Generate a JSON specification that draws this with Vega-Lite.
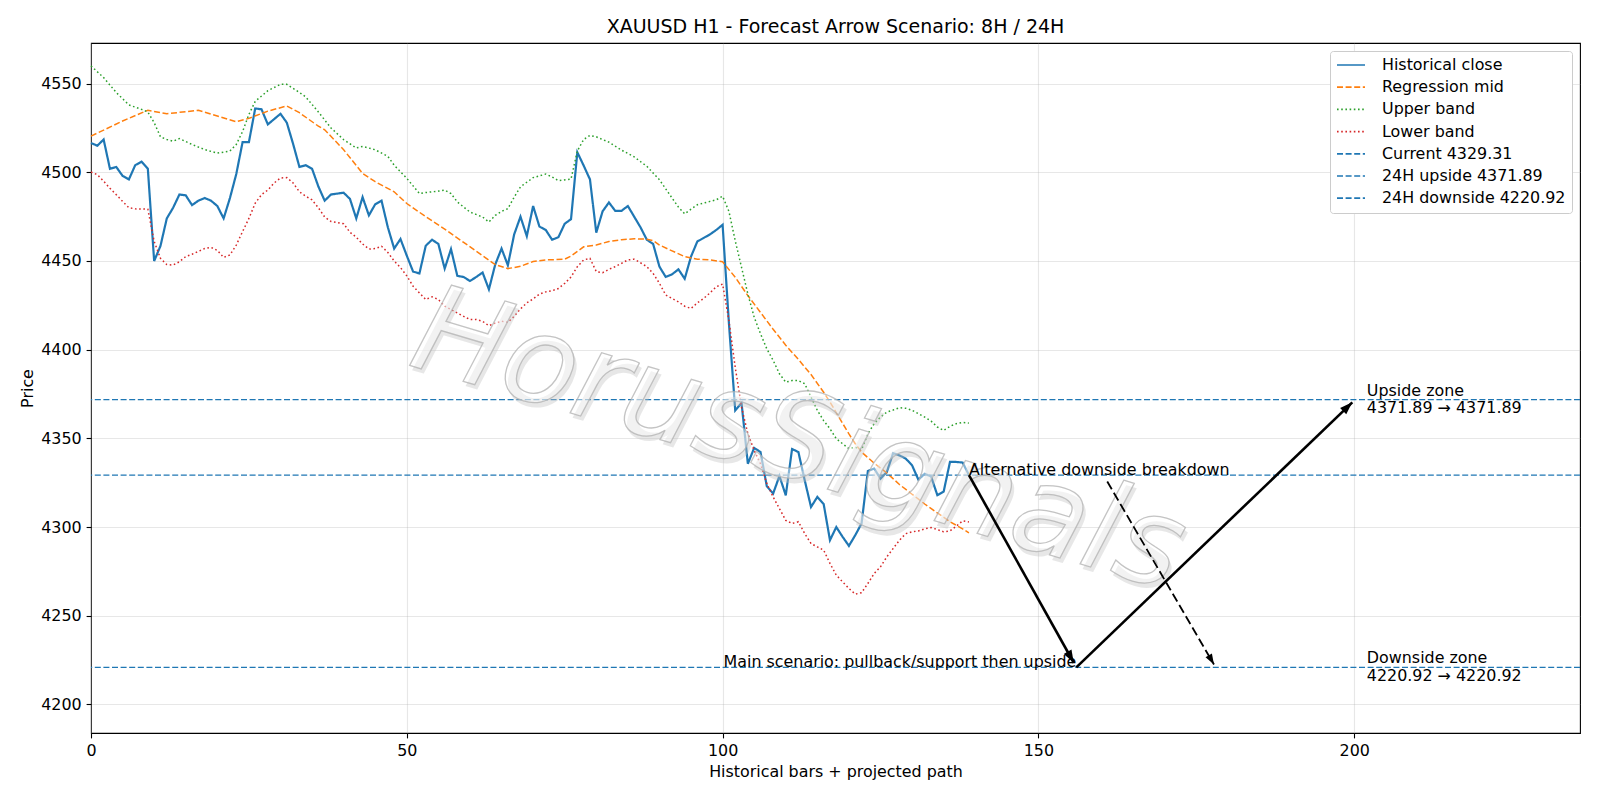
{
"$schema":"https://vega.github.io/schema/vega-lite/v6.json",
"width":1489,"height":690,
"autosize":{"type":"none"},
"padding":{"left":91,"top":43,"right":20,"bottom":67},
"background":"white",
"title":{"text":"XAUUSD H1 - Forecast Arrow Scenario: 8H / 24H","fontSize":19,"fontWeight":"normal","color":"black","font":"DejaVu Sans","offset":6.5,"frame":"group","anchor":"middle"},
"datasets":{
"series":[
{"s":"Historical close","i":0,"p":4516.5},{"s":"Historical close","i":1,"p":4515},{"s":"Historical close","i":2,"p":4518.5},{"s":"Historical close","i":3,"p":4502},{"s":"Historical close","i":4,"p":4503},{"s":"Historical close","i":5,"p":4498},{"s":"Historical close","i":6,"p":4496},{"s":"Historical close","i":7,"p":4504},{"s":"Historical close","i":8,"p":4506},{"s":"Historical close","i":9,"p":4502},
{"s":"Historical close","i":10,"p":4450},{"s":"Historical close","i":11,"p":4458.5},{"s":"Historical close","i":12,"p":4474},{"s":"Historical close","i":13,"p":4480},{"s":"Historical close","i":14,"p":4487.5},{"s":"Historical close","i":15,"p":4487},{"s":"Historical close","i":16,"p":4481.5},{"s":"Historical close","i":17,"p":4484},{"s":"Historical close","i":18,"p":4485.5},{"s":"Historical close","i":19,"p":4484},
{"s":"Historical close","i":20,"p":4481},{"s":"Historical close","i":21,"p":4474},{"s":"Historical close","i":22,"p":4485.5},{"s":"Historical close","i":23,"p":4499},{"s":"Historical close","i":24,"p":4517},{"s":"Historical close","i":25,"p":4517},{"s":"Historical close","i":26,"p":4536},{"s":"Historical close","i":27,"p":4535.5},{"s":"Historical close","i":28,"p":4527},{"s":"Historical close","i":29,"p":4530},
{"s":"Historical close","i":30,"p":4533},{"s":"Historical close","i":31,"p":4528},{"s":"Historical close","i":32,"p":4516},{"s":"Historical close","i":33,"p":4503},{"s":"Historical close","i":34,"p":4504},{"s":"Historical close","i":35,"p":4502},{"s":"Historical close","i":36,"p":4492},{"s":"Historical close","i":37,"p":4484},{"s":"Historical close","i":38,"p":4487.5},{"s":"Historical close","i":39,"p":4488},
{"s":"Historical close","i":40,"p":4488.5},{"s":"Historical close","i":41,"p":4485},{"s":"Historical close","i":42,"p":4474},{"s":"Historical close","i":43,"p":4486},{"s":"Historical close","i":44,"p":4475.7},{"s":"Historical close","i":45,"p":4482},{"s":"Historical close","i":46,"p":4484},{"s":"Historical close","i":47,"p":4469},{"s":"Historical close","i":48,"p":4457},{"s":"Historical close","i":49,"p":4462.4},
{"s":"Historical close","i":50,"p":4453},{"s":"Historical close","i":51,"p":4444},{"s":"Historical close","i":52,"p":4443},{"s":"Historical close","i":53,"p":4458.6},{"s":"Historical close","i":54,"p":4462},{"s":"Historical close","i":55,"p":4459.6},{"s":"Historical close","i":56,"p":4445.7},{"s":"Historical close","i":57,"p":4456.7},{"s":"Historical close","i":58,"p":4441.6},{"s":"Historical close","i":59,"p":4441},
{"s":"Historical close","i":60,"p":4438.7},{"s":"Historical close","i":61,"p":4441},{"s":"Historical close","i":62,"p":4443.5},{"s":"Historical close","i":63,"p":4434},{"s":"Historical close","i":64,"p":4448},{"s":"Historical close","i":65,"p":4457},{"s":"Historical close","i":66,"p":4447.6},{"s":"Historical close","i":67,"p":4465},{"s":"Historical close","i":68,"p":4475},{"s":"Historical close","i":69,"p":4464},
{"s":"Historical close","i":70,"p":4481},{"s":"Historical close","i":71,"p":4469.4},{"s":"Historical close","i":72,"p":4467.5},{"s":"Historical close","i":73,"p":4462},{"s":"Historical close","i":74,"p":4463.4},{"s":"Historical close","i":75,"p":4471},{"s":"Historical close","i":76,"p":4473.6},{"s":"Historical close","i":77,"p":4511.3},{"s":"Historical close","i":78,"p":4503.8},{"s":"Historical close","i":79,"p":4496},
{"s":"Historical close","i":80,"p":4466},{"s":"Historical close","i":81,"p":4478},{"s":"Historical close","i":82,"p":4483},{"s":"Historical close","i":83,"p":4478.3},{"s":"Historical close","i":84,"p":4478.3},{"s":"Historical close","i":85,"p":4481},{"s":"Historical close","i":86,"p":4475},{"s":"Historical close","i":87,"p":4469},{"s":"Historical close","i":88,"p":4462},{"s":"Historical close","i":89,"p":4459.6},
{"s":"Historical close","i":90,"p":4446.8},{"s":"Historical close","i":91,"p":4441},{"s":"Historical close","i":92,"p":4442.5},{"s":"Historical close","i":93,"p":4445.3},{"s":"Historical close","i":94,"p":4440},{"s":"Historical close","i":95,"p":4452.5},{"s":"Historical close","i":96,"p":4461},{"s":"Historical close","i":97,"p":4463},{"s":"Historical close","i":98,"p":4465},{"s":"Historical close","i":99,"p":4467.5},
{"s":"Historical close","i":100,"p":4470.4},{"s":"Historical close","i":101,"p":4415},{"s":"Historical close","i":102,"p":4365.7},{"s":"Historical close","i":103,"p":4370},{"s":"Historical close","i":104,"p":4335.7},{"s":"Historical close","i":105,"p":4344.6},{"s":"Historical close","i":106,"p":4342.3},{"s":"Historical close","i":107,"p":4323},{"s":"Historical close","i":108,"p":4318.9},{"s":"Historical close","i":109,"p":4328.8},
{"s":"Historical close","i":110,"p":4317.9},{"s":"Historical close","i":111,"p":4344},{"s":"Historical close","i":112,"p":4342.3},{"s":"Historical close","i":113,"p":4326.4},{"s":"Historical close","i":114,"p":4311.3},{"s":"Historical close","i":115,"p":4317},{"s":"Historical close","i":116,"p":4313},{"s":"Historical close","i":117,"p":4292.6},{"s":"Historical close","i":118,"p":4300},{"s":"Historical close","i":119,"p":4294.5},
{"s":"Historical close","i":120,"p":4289.4},{"s":"Historical close","i":121,"p":4295.4},{"s":"Historical close","i":122,"p":4302},{"s":"Historical close","i":123,"p":4331.6},{"s":"Historical close","i":124,"p":4333},{"s":"Historical close","i":125,"p":4327.3},{"s":"Historical close","i":126,"p":4331},{"s":"Historical close","i":127,"p":4341.7},{"s":"Historical close","i":128,"p":4340.4},{"s":"Historical close","i":129,"p":4338.6},
{"s":"Historical close","i":130,"p":4334.8},{"s":"Historical close","i":131,"p":4326.7},{"s":"Historical close","i":132,"p":4330},{"s":"Historical close","i":133,"p":4328.6},{"s":"Historical close","i":134,"p":4318},{"s":"Historical close","i":135,"p":4320},{"s":"Historical close","i":136,"p":4336.7},{"s":"Historical close","i":137,"p":4336.7},{"s":"Historical close","i":138,"p":4336.4},{"s":"Historical close","i":139,"p":4329.31},
{"s":"Regression mid","i":0,"p":4520.4},{"s":"Regression mid","i":5,"p":4528.9},{"s":"Regression mid","i":9,"p":4535},{"s":"Regression mid","i":12,"p":4533},{"s":"Regression mid","i":17,"p":4535},{"s":"Regression mid","i":20,"p":4531.7},{"s":"Regression mid","i":23,"p":4528.5},{"s":"Regression mid","i":25,"p":4530.4},{"s":"Regression mid","i":28,"p":4534.5},{"s":"Regression mid","i":31,"p":4537.4},{"s":"Regression mid","i":33,"p":4533.6},{"s":"Regression mid","i":36,"p":4526},{"s":"Regression mid","i":37,"p":4524},{"s":"Regression mid","i":40,"p":4512.7},{"s":"Regression mid","i":43,"p":4499.4},{"s":"Regression mid","i":45,"p":4494.7},{"s":"Regression mid","i":48,"p":4489},{"s":"Regression mid","i":50,"p":4482.4},{"s":"Regression mid","i":53,"p":4475},{"s":"Regression mid","i":56,"p":4468},{"s":"Regression mid","i":59,"p":4460.5},{"s":"Regression mid","i":62,"p":4453},{"s":"Regression mid","i":64,"p":4448},{"s":"Regression mid","i":66,"p":4445.7},{"s":"Regression mid","i":68,"p":4447},{"s":"Regression mid","i":70,"p":4449.7},{"s":"Regression mid","i":72,"p":4450.6},{"s":"Regression mid","i":75,"p":4451},{"s":"Regression mid","i":76,"p":4452.8},{"s":"Regression mid","i":78,"p":4458},{"s":"Regression mid","i":80,"p":4459},{"s":"Regression mid","i":82,"p":4461},{"s":"Regression mid","i":84,"p":4462},{"s":"Regression mid","i":86,"p":4462.5},{"s":"Regression mid","i":88,"p":4462.3},{"s":"Regression mid","i":89,"p":4461.5},{"s":"Regression mid","i":90,"p":4459},{"s":"Regression mid","i":92,"p":4455.7},{"s":"Regression mid","i":94,"p":4452.5},{"s":"Regression mid","i":96,"p":4451},{"s":"Regression mid","i":98,"p":4450.6},{"s":"Regression mid","i":100,"p":4449.6},{"s":"Regression mid","i":102,"p":4440.8},{"s":"Regression mid","i":104,"p":4430.5},{"s":"Regression mid","i":106,"p":4421},{"s":"Regression mid","i":108,"p":4411.5},{"s":"Regression mid","i":110,"p":4402.5},{"s":"Regression mid","i":112,"p":4394.5},{"s":"Regression mid","i":114,"p":4386},{"s":"Regression mid","i":116,"p":4376},{"s":"Regression mid","i":117,"p":4370.5},{"s":"Regression mid","i":118,"p":4364.5},{"s":"Regression mid","i":119,"p":4358.5},{"s":"Regression mid","i":120,"p":4352.5},{"s":"Regression mid","i":121,"p":4347},{"s":"Regression mid","i":122,"p":4342.3},{"s":"Regression mid","i":124,"p":4336},{"s":"Regression mid","i":126,"p":4330.5},{"s":"Regression mid","i":128,"p":4324},{"s":"Regression mid","i":130,"p":4318.5},{"s":"Regression mid","i":132,"p":4313},{"s":"Regression mid","i":134,"p":4308},{"s":"Regression mid","i":136,"p":4303},{"s":"Regression mid","i":138,"p":4299},{"s":"Regression mid","i":139,"p":4296.7},
{"s":"Upper band","i":0,"p":4560},{"s":"Upper band","i":2,"p":4553.4},{"s":"Upper band","i":4,"p":4545},{"s":"Upper band","i":6,"p":4538},{"s":"Upper band","i":8,"p":4535.5},{"s":"Upper band","i":9,"p":4534},{"s":"Upper band","i":10,"p":4528},{"s":"Upper band","i":11,"p":4520},{"s":"Upper band","i":12,"p":4518.5},{"s":"Upper band","i":13,"p":4517.5},{"s":"Upper band","i":14,"p":4519},{"s":"Upper band","i":16,"p":4515.7},{"s":"Upper band","i":18,"p":4512.8},{"s":"Upper band","i":20,"p":4510.8},{"s":"Upper band","i":22,"p":4512},{"s":"Upper band","i":23,"p":4515.7},{"s":"Upper band","i":24,"p":4523},{"s":"Upper band","i":25,"p":4532.6},{"s":"Upper band","i":26,"p":4540},{"s":"Upper band","i":28,"p":4546},{"s":"Upper band","i":30,"p":4549.6},{"s":"Upper band","i":31,"p":4549.6},{"s":"Upper band","i":33,"p":4545},{"s":"Upper band","i":34,"p":4542.5},{"s":"Upper band","i":36,"p":4534},{"s":"Upper band","i":38,"p":4525},{"s":"Upper band","i":40,"p":4518.4},{"s":"Upper band","i":42,"p":4513.7},{"s":"Upper band","i":43,"p":4514.6},{"s":"Upper band","i":45,"p":4512.7},{"s":"Upper band","i":47,"p":4509},{"s":"Upper band","i":48,"p":4504},{"s":"Upper band","i":50,"p":4496.6},{"s":"Upper band","i":52,"p":4488},{"s":"Upper band","i":53,"p":4488.6},{"s":"Upper band","i":55,"p":4489.4},{"s":"Upper band","i":56,"p":4490},{"s":"Upper band","i":57,"p":4488},{"s":"Upper band","i":58,"p":4483.3},{"s":"Upper band","i":60,"p":4477.6},{"s":"Upper band","i":62,"p":4474.8},{"s":"Upper band","i":63,"p":4472},{"s":"Upper band","i":64,"p":4475.7},{"s":"Upper band","i":65,"p":4478},{"s":"Upper band","i":66,"p":4479.5},{"s":"Upper band","i":67,"p":4486},{"s":"Upper band","i":68,"p":4491.8},{"s":"Upper band","i":70,"p":4497},{"s":"Upper band","i":71,"p":4498},{"s":"Upper band","i":72,"p":4499},{"s":"Upper band","i":73,"p":4497.4},{"s":"Upper band","i":74,"p":4495.3},{"s":"Upper band","i":76,"p":4496.2},{"s":"Upper band","i":77,"p":4512},{"s":"Upper band","i":78,"p":4518.5},{"s":"Upper band","i":79,"p":4520.8},{"s":"Upper band","i":80,"p":4520},{"s":"Upper band","i":82,"p":4517},{"s":"Upper band","i":84,"p":4512.5},{"s":"Upper band","i":86,"p":4508.7},{"s":"Upper band","i":88,"p":4503.4},{"s":"Upper band","i":90,"p":4495.8},{"s":"Upper band","i":92,"p":4485.5},{"s":"Upper band","i":93,"p":4480.4},{"s":"Upper band","i":94,"p":4476.6},{"s":"Upper band","i":95,"p":4479.2},{"s":"Upper band","i":96,"p":4481.7},{"s":"Upper band","i":98,"p":4483.6},{"s":"Upper band","i":99,"p":4484.5},{"s":"Upper band","i":100,"p":4486.5},{"s":"Upper band","i":101,"p":4478},{"s":"Upper band","i":102,"p":4461.4},{"s":"Upper band","i":103,"p":4446.4},{"s":"Upper band","i":104,"p":4431.4},{"s":"Upper band","i":105,"p":4418.3},{"s":"Upper band","i":106,"p":4409},{"s":"Upper band","i":107,"p":4400.5},{"s":"Upper band","i":108,"p":4394},{"s":"Upper band","i":109,"p":4386.4},{"s":"Upper band","i":110,"p":4381.7},{"s":"Upper band","i":111,"p":4382.6},{"s":"Upper band","i":112,"p":4382.6},{"s":"Upper band","i":113,"p":4380.8},{"s":"Upper band","i":114,"p":4373.3},{"s":"Upper band","i":115,"p":4365.8},{"s":"Upper band","i":116,"p":4360},{"s":"Upper band","i":117,"p":4355.4},{"s":"Upper band","i":118,"p":4349.8},{"s":"Upper band","i":119,"p":4347},{"s":"Upper band","i":120,"p":4344.2},{"s":"Upper band","i":121,"p":4345},{"s":"Upper band","i":122,"p":4343.6},{"s":"Upper band","i":123,"p":4352.6},{"s":"Upper band","i":124,"p":4358.3},{"s":"Upper band","i":125,"p":4362},{"s":"Upper band","i":126,"p":4364.8},{"s":"Upper band","i":127,"p":4366},{"s":"Upper band","i":128,"p":4367.3},{"s":"Upper band","i":129,"p":4367},{"s":"Upper band","i":130,"p":4365.8},{"s":"Upper band","i":131,"p":4363.9},{"s":"Upper band","i":132,"p":4362},{"s":"Upper band","i":133,"p":4359.8},{"s":"Upper band","i":134,"p":4356.4},{"s":"Upper band","i":135,"p":4354.5},{"s":"Upper band","i":136,"p":4356.8},{"s":"Upper band","i":137,"p":4358.3},{"s":"Upper band","i":138,"p":4359},{"s":"Upper band","i":139,"p":4358.6},
{"s":"Lower band","i":0,"p":4500.2},{"s":"Lower band","i":1,"p":4498.7},{"s":"Lower band","i":2,"p":4495},{"s":"Lower band","i":3,"p":4491},{"s":"Lower band","i":4,"p":4487.4},{"s":"Lower band","i":5,"p":4483.6},{"s":"Lower band","i":6,"p":4480},{"s":"Lower band","i":7,"p":4479.4},{"s":"Lower band","i":9,"p":4479.2},{"s":"Lower band","i":10,"p":4461},{"s":"Lower band","i":11,"p":4451.5},{"s":"Lower band","i":12,"p":4448},{"s":"Lower band","i":13,"p":4447.7},{"s":"Lower band","i":14,"p":4449.6},{"s":"Lower band","i":15,"p":4452.5},{"s":"Lower band","i":16,"p":4453.8},{"s":"Lower band","i":18,"p":4457},{"s":"Lower band","i":19,"p":4457.7},{"s":"Lower band","i":20,"p":4456},{"s":"Lower band","i":21,"p":4452},{"s":"Lower band","i":22,"p":4453.4},{"s":"Lower band","i":23,"p":4459},{"s":"Lower band","i":24,"p":4466.6},{"s":"Lower band","i":25,"p":4474},{"s":"Lower band","i":26,"p":4482.6},{"s":"Lower band","i":27,"p":4487.4},{"s":"Lower band","i":28,"p":4490},{"s":"Lower band","i":29,"p":4494},{"s":"Lower band","i":30,"p":4496.8},{"s":"Lower band","i":31,"p":4497},{"s":"Lower band","i":32,"p":4494},{"s":"Lower band","i":33,"p":4489},{"s":"Lower band","i":34,"p":4486.5},{"s":"Lower band","i":35,"p":4484.5},{"s":"Lower band","i":36,"p":4480},{"s":"Lower band","i":37,"p":4474.8},{"s":"Lower band","i":38,"p":4472.3},{"s":"Lower band","i":40,"p":4471},{"s":"Lower band","i":41,"p":4466.2},{"s":"Lower band","i":42,"p":4463.4},{"s":"Lower band","i":43,"p":4459.6},{"s":"Lower band","i":44,"p":4456.7},{"s":"Lower band","i":45,"p":4457},{"s":"Lower band","i":46,"p":4458.3},{"s":"Lower band","i":47,"p":4454.8},{"s":"Lower band","i":48,"p":4450},{"s":"Lower band","i":49,"p":4446.3},{"s":"Lower band","i":50,"p":4441.6},{"s":"Lower band","i":51,"p":4435.8},{"s":"Lower band","i":52,"p":4432},{"s":"Lower band","i":53,"p":4428.3},{"s":"Lower band","i":54,"p":4429.8},{"s":"Lower band","i":55,"p":4428.3},{"s":"Lower band","i":56,"p":4424.5},{"s":"Lower band","i":57,"p":4422.6},{"s":"Lower band","i":58,"p":4420.7},{"s":"Lower band","i":59,"p":4418.8},{"s":"Lower band","i":60,"p":4417},{"s":"Lower band","i":61,"p":4417},{"s":"Lower band","i":62,"p":4416},{"s":"Lower band","i":63,"p":4413.5},{"s":"Lower band","i":64,"p":4415},{"s":"Lower band","i":65,"p":4416},{"s":"Lower band","i":66,"p":4415.4},{"s":"Lower band","i":67,"p":4418.8},{"s":"Lower band","i":68,"p":4423},{"s":"Lower band","i":69,"p":4426.4},{"s":"Lower band","i":70,"p":4428.6},{"s":"Lower band","i":71,"p":4431.3},{"s":"Lower band","i":72,"p":4432.6},{"s":"Lower band","i":73,"p":4433.2},{"s":"Lower band","i":74,"p":4434.5},{"s":"Lower band","i":75,"p":4437.4},{"s":"Lower band","i":76,"p":4441},{"s":"Lower band","i":77,"p":4446.8},{"s":"Lower band","i":78,"p":4450.6},{"s":"Lower band","i":79,"p":4451.5},{"s":"Lower band","i":80,"p":4444},{"s":"Lower band","i":81,"p":4443.4},{"s":"Lower band","i":82,"p":4445.3},{"s":"Lower band","i":83,"p":4446.8},{"s":"Lower band","i":84,"p":4448.7},{"s":"Lower band","i":85,"p":4450.6},{"s":"Lower band","i":86,"p":4451},{"s":"Lower band","i":87,"p":4449},{"s":"Lower band","i":88,"p":4446.8},{"s":"Lower band","i":89,"p":4443},{"s":"Lower band","i":90,"p":4437.4},{"s":"Lower band","i":91,"p":4430.8},{"s":"Lower band","i":92,"p":4428.9},{"s":"Lower band","i":93,"p":4427},{"s":"Lower band","i":94,"p":4424.5},{"s":"Lower band","i":95,"p":4423.2},{"s":"Lower band","i":96,"p":4426.4},{"s":"Lower band","i":97,"p":4428.9},{"s":"Lower band","i":98,"p":4432},{"s":"Lower band","i":99,"p":4435.5},{"s":"Lower band","i":100,"p":4437},{"s":"Lower band","i":101,"p":4416.4},{"s":"Lower band","i":102,"p":4390},{"s":"Lower band","i":103,"p":4367.6},{"s":"Lower band","i":104,"p":4352.6},{"s":"Lower band","i":105,"p":4343.2},{"s":"Lower band","i":106,"p":4335.7},{"s":"Lower band","i":107,"p":4324.5},{"s":"Lower band","i":108,"p":4317},{"s":"Lower band","i":109,"p":4310.4},{"s":"Lower band","i":110,"p":4303.8},{"s":"Lower band","i":111,"p":4302},{"s":"Lower band","i":112,"p":4303},{"s":"Lower band","i":113,"p":4296.3},{"s":"Lower band","i":114,"p":4290.7},{"s":"Lower band","i":115,"p":4288.8},{"s":"Lower band","i":116,"p":4287},{"s":"Lower band","i":117,"p":4279.5},{"s":"Lower band","i":118,"p":4272.9},{"s":"Lower band","i":119,"p":4269.1},{"s":"Lower band","i":120,"p":4265.4},{"s":"Lower band","i":121,"p":4262.2},{"s":"Lower band","i":122,"p":4263},{"s":"Lower band","i":123,"p":4268.2},{"s":"Lower band","i":124,"p":4273.8},{"s":"Lower band","i":125,"p":4277.6},{"s":"Lower band","i":126,"p":4283.2},{"s":"Lower band","i":127,"p":4287.9},{"s":"Lower band","i":128,"p":4292.6},{"s":"Lower band","i":129,"p":4296.3},{"s":"Lower band","i":130,"p":4297.3},{"s":"Lower band","i":131,"p":4297.8},{"s":"Lower band","i":132,"p":4299},{"s":"Lower band","i":133,"p":4299.7},{"s":"Lower band","i":134,"p":4298.6},{"s":"Lower band","i":135,"p":4297.3},{"s":"Lower band","i":136,"p":4297.8},{"s":"Lower band","i":137,"p":4300.5},{"s":"Lower band","i":138,"p":4303.5},{"s":"Lower band","i":139,"p":4302.9}
],
"levels":[{"s":"Current 4329.31","p":4329.31},{"s":"24H upside 4371.89","p":4371.89},{"s":"24H downside 4220.92","p":4220.92}],
"arrows":[{"a":"down","x":139,"y":4329.31,"x2":155.6,"y2":4223.5},{"a":"up","x":156,"y":4220.92,"x2":199.7,"y2":4370.3},{"a":"alt","x":160.9,"y":4325.7,"x2":177.8,"y2":4222.5}],
"notes":[{"k":"left","t":"Alternative downside breakdown","x":139,"y":4329.31},{"k":"right","t":"Main scenario: pullback/support then upside","x":156,"y":4220.92},{"k":"zone","t":"Upside zone\n4371.89 → 4371.89","x":202,"y":4371.89},{"k":"zone","t":"Downside zone\n4220.92 → 4220.92","x":202,"y":4220.92}],
"wm":[{"t":"HorusSignals","x":112,"y":4348}]
},
"layer":[
{"data":{"name":"series"},"transform":[{"filter":"datum.s === 'Historical close'"}],
 "mark":{"type":"line","strokeWidth":2.2},
 "encoding":{
  "x":{"field":"i","type":"quantitative","scale":{"domain":[0,235.75],"nice":false,"zero":false},"axis":{"values":[0,50,100,150,200],"title":"Historical bars + projected path","labelFlush":false,"titlePadding":5}},
  "y":{"field":"p","type":"quantitative","scale":{"domain":[4183.9,4572.9],"nice":false,"zero":false},"axis":{"values":[4200,4250,4300,4350,4400,4450,4500,4550],"format":"d","title":"Price","titlePadding":5}},
  "color":{"field":"s","type":"nominal","title":null,"scale":{"domain":["Historical close","Regression mid","Upper band","Lower band","Current 4329.31","24H upside 4371.89","24H downside 4220.92"],"range":["#1f77b4","#ff7f0e","#2ca02c","#d62728","#1f77b4","#1f77b4","#1f77b4"]}},
  "strokeDash":{"field":"s","type":"nominal","title":null,"scale":{"domain":["Historical close","Regression mid","Upper band","Lower band","Current 4329.31","24H upside 4371.89","24H downside 4220.92"],"range":[[1,0],[6,2.6],[1.6,2.6],[1.6,2.6],[6,2.6],[6,2.6],[6,2.6]]}},
  "order":{"field":"i","type":"quantitative"}
 }},
{"data":{"name":"series"},"transform":[{"filter":"datum.s !== 'Historical close'"}],
 "mark":{"type":"line","strokeWidth":1.5},
 "encoding":{
  "x":{"field":"i","type":"quantitative"},
  "y":{"field":"p","type":"quantitative"},
  "color":{"field":"s","type":"nominal","title":null},
  "strokeDash":{"field":"s","type":"nominal","title":null},
  "order":{"field":"i","type":"quantitative"}
 }},
{"data":{"name":"levels"},
 "mark":{"type":"rule","strokeWidth":1.3},
 "encoding":{
  "y":{"field":"p","type":"quantitative"},
  "color":{"field":"s","type":"nominal","title":null},
  "strokeDash":{"field":"s","type":"nominal","title":null}
 }},
{"data":{"name":"wm"},
 "mark":{"type":"text","font":"DejaVu Sans","fontStyle":"italic","fontSize":122,"angle":16.5,"align":"center","baseline":"middle","dx":4,"dy":4,"fill":"#c4c4c4","opacity":0.4},
 "encoding":{"x":{"field":"x","type":"quantitative"},"y":{"field":"y","type":"quantitative"},"text":{"field":"t"}}},
{"data":{"name":"wm"},
 "mark":{"type":"text","font":"DejaVu Sans","fontStyle":"italic","fontSize":122,"angle":16.5,"align":"center","baseline":"middle","fill":"#ffffff","fillOpacity":0.45,"stroke":"#b0b0b0","strokeWidth":1.3,"strokeOpacity":0.75},
 "encoding":{"x":{"field":"x","type":"quantitative"},"y":{"field":"y","type":"quantitative"},"text":{"field":"t"}}},
{"data":{"name":"arrows"},"transform":[{"filter":"datum.a !== 'alt'"}],
 "mark":{"type":"rule","color":"black","strokeWidth":2.6},
 "encoding":{"x":{"field":"x","type":"quantitative"},"y":{"field":"y","type":"quantitative"},"x2":{"field":"x2"},"y2":{"field":"y2"}}},
{"data":{"name":"arrows"},"transform":[{"filter":"datum.a === 'alt'"}],
 "mark":{"type":"rule","color":"black","strokeWidth":1.8,"strokeDash":[9,4]},
 "encoding":{"x":{"field":"x","type":"quantitative"},"y":{"field":"y","type":"quantitative"},"x2":{"field":"x2"},"y2":{"field":"y2"}}},
{"data":{"name":"arrows"},"transform":[{"filter":"datum.a === 'down'"}],
 "mark":{"type":"point","shape":"M0,0L-0.7,2L0.7,2Z","size":160,"filled":true,"color":"black","opacity":1,"angle":150.8},
 "encoding":{"x":{"field":"x2","type":"quantitative"},"y":{"field":"y2","type":"quantitative"}}},
{"data":{"name":"arrows"},"transform":[{"filter":"datum.a === 'up'"}],
 "mark":{"type":"point","shape":"M0,0L-0.7,2L0.7,2Z","size":160,"filled":true,"color":"black","opacity":1,"angle":46.2},
 "encoding":{"x":{"field":"x2","type":"quantitative"},"y":{"field":"y2","type":"quantitative"}}},
{"data":{"name":"arrows"},"transform":[{"filter":"datum.a === 'alt'"}],
 "mark":{"type":"point","shape":"M0,0L-0.7,2L0.7,2Z","size":110,"filled":true,"color":"black","opacity":1,"angle":149.8},
 "encoding":{"x":{"field":"x2","type":"quantitative"},"y":{"field":"y2","type":"quantitative"}}},
{"data":{"name":"notes"},"transform":[{"filter":"datum.k === 'left'"}],
 "mark":{"type":"text","align":"left","baseline":"alphabetic","fontSize":15.9,"font":"DejaVu Sans","color":"black"},
 "encoding":{"x":{"field":"x","type":"quantitative"},"y":{"field":"y","type":"quantitative"},"text":{"field":"t"}}},
{"data":{"name":"notes"},"transform":[{"filter":"datum.k === 'right'"}],
 "mark":{"type":"text","align":"right","baseline":"alphabetic","fontSize":15.9,"font":"DejaVu Sans","color":"black"},
 "encoding":{"x":{"field":"x","type":"quantitative"},"y":{"field":"y","type":"quantitative"},"text":{"field":"t"}}},
{"data":{"name":"notes"},"transform":[{"filter":"datum.k === 'zone'"}],
 "mark":{"type":"text","align":"left","baseline":"middle","dy":-9,"fontSize":15.9,"font":"DejaVu Sans","color":"black","lineBreak":"\n","lineHeight":17.5},
 "encoding":{"x":{"field":"x","type":"quantitative"},"y":{"field":"y","type":"quantitative"},"text":{"field":"t"}}}
],
"config":{
 "font":"DejaVu Sans",
 "view":{"stroke":"black","strokeWidth":1.1},
 "axis":{"domain":false,"grid":true,"gridColor":"#b0b0b0","gridOpacity":0.3,"gridWidth":1.1,"ticks":true,"tickColor":"black","tickSize":4.9,"tickWidth":1.1,"labelFont":"DejaVu Sans","labelFontSize":15.9,"labelColor":"black","labelPadding":4.9,"titleFont":"DejaVu Sans","titleFontSize":15.9,"titleFontWeight":"normal","titleColor":"black"},
 "legend":{"orient":"top-right","offset":8,"fillColor":"white","strokeColor":"#cccccc","cornerRadius":3,"padding":6,"symbolType":"stroke","symbolSize":784,"symbolStrokeWidth":1.7,"clipHeight":16,"rowPadding":6.2,"labelOffset":16,"labelFont":"DejaVu Sans","labelFontSize":15.9,"labelColor":"black","labelLimit":400}
}
}
